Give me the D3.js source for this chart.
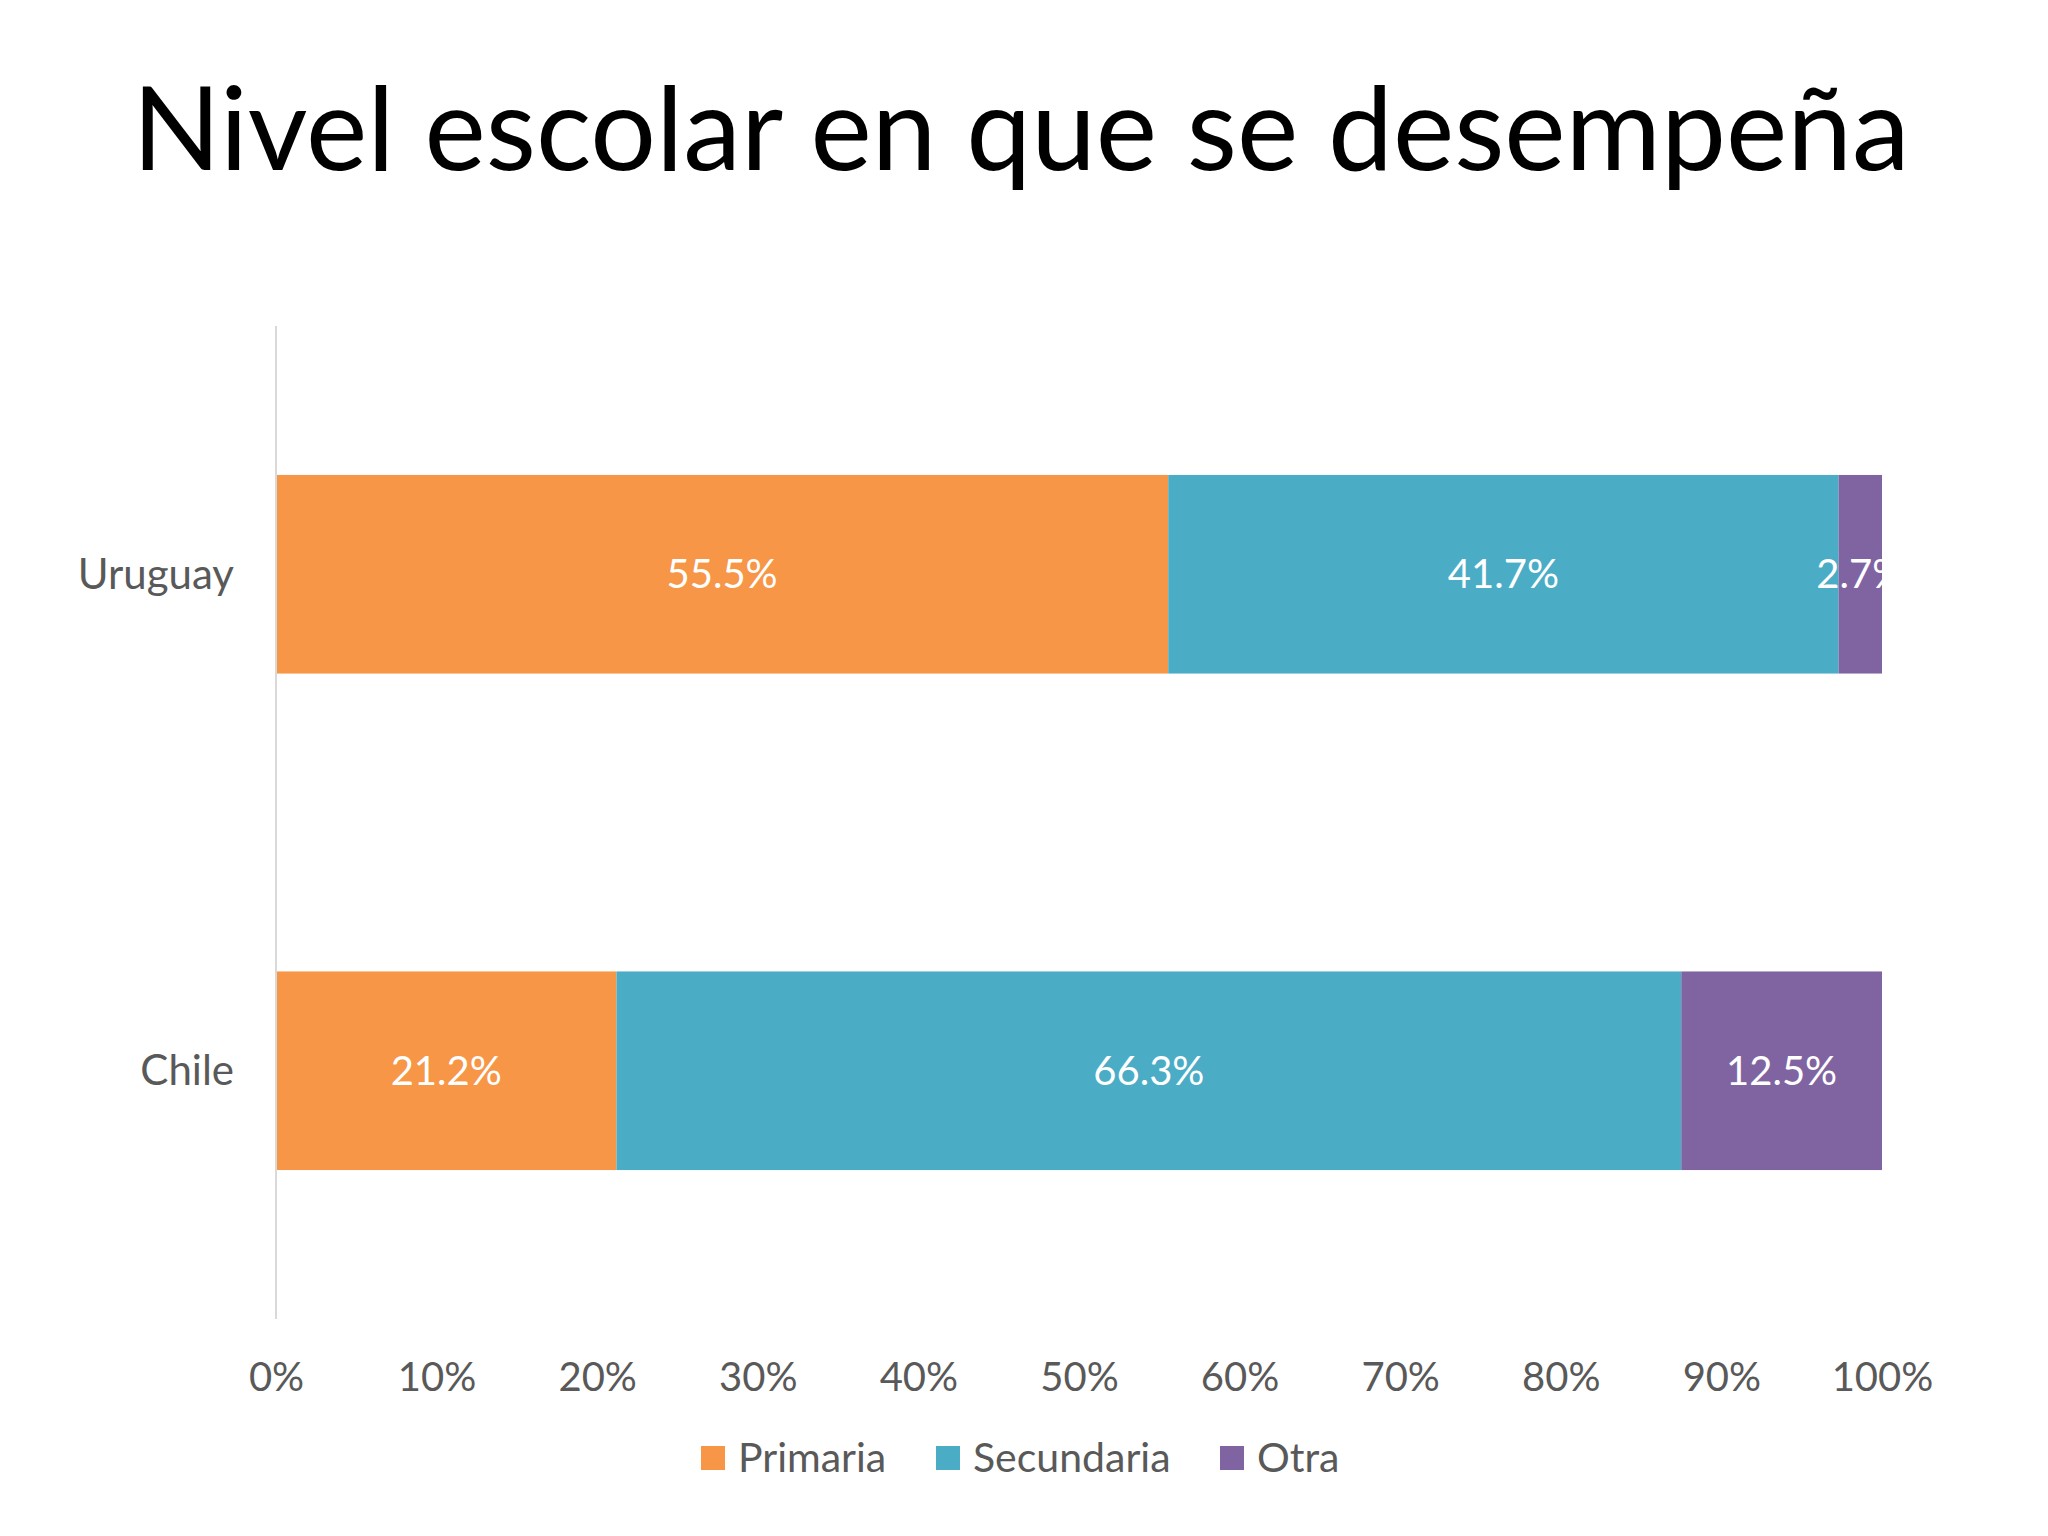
<!DOCTYPE html>
<html>
<head>
<meta charset="utf-8">
<script src="https://cdn.jsdelivr.net/npm/d3@7"></script>
<style>
  html, body { margin: 0; padding: 0; background: #ffffff; }
  svg text { font-family: Lato, "Open Sans", sans-serif; }
</style>
</head>
<body>
<div id="chart"></div>
<script>
// categories (top to bottom) and series shares in percent
var countries = ["Uruguay", "Chile"];
var seriesNames = ["Primaria", "Secundaria", "Otra"];
var primaria = [55.5, 21.2];
var secundaria = [41.7, 66.3];
var otra = [2.7, 12.5];
var tickValues = [0, 0.1, 0.2, 0.3, 0.4, 0.5, 0.6, 0.7, 0.8, 0.9, 1];
var colors = ["#F79646", "#4BACC6", "#8064A2"];

var width = 2048,
    height = 1536;

var svg = d3.select("#chart").append("svg")
    .attr("width", width)
    .attr("height", height);

// plot area
var plot = {left: 276, right: 1882, top: 326, bottom: 1319};

var x = d3.scaleLinear().domain([0, 1]).range([plot.left, plot.right]);
var y = d3.scaleBand().domain(countries)
    .range([plot.top, plot.bottom])
    .paddingInner(0.6).paddingOuter(0.3);
var color = d3.scaleOrdinal().domain(seriesNames).range(colors);

// rows normalised to 100% stacked
var rows = countries.map(function(c, i) {
    return {country: c, Primaria: primaria[i], Secundaria: secundaria[i], Otra: otra[i]};
});
var stacked = d3.stack().keys(seriesNames).offset(d3.stackOffsetExpand)(rows);

// title
svg.append("text")
    .attr("x", 1021)
    .attr("y", 170)
    .attr("text-anchor", "middle")
    .style("font-size", "116px")
    .style("fill", "#000000")
    .text("Nivel escolar en que se desempeña");

svg.append("clipPath").attr("id", "plotclip")
  .append("rect")
    .attr("x", plot.left).attr("y", plot.top)
    .attr("width", plot.right - plot.left)
    .attr("height", plot.bottom - plot.top);

// bars
var layers = svg.selectAll("g.layer")
    .data(stacked).enter().append("g")
    .attr("class", "layer")
    .style("fill", function(d) { return color(d.key); });

layers.selectAll("rect")
    .data(function(d) { return d; }).enter().append("rect")
    .attr("x", function(d) { return x(d[0]); })
    .attr("y", function(d) { return y(d.data.country); })
    .attr("width", function(d) { return x(d[1]) - x(d[0]); })
    .attr("height", y.bandwidth());

// value labels (clipped at the plot edge like the original)
var labels = svg.append("g").attr("clip-path", "url(#plotclip)");
stacked.forEach(function(layer) {
    labels.selectAll(null)
        .data(layer).enter().append("text")
        .attr("x", function(d) { return (x(d[0]) + x(d[1])) / 2; })
        .attr("y", function(d) { return y(d.data.country) + y.bandwidth() / 2; })
        .attr("dy", "0.35em")
        .attr("text-anchor", "middle")
        .style("font-size", "40px")
        .style("fill", "#ffffff")
        .text(function(d) { return d.data[layer.key].toFixed(1) + "%"; });
});

// vertical axis line
svg.append("line")
    .attr("x1", plot.left).attr("x2", plot.left)
    .attr("y1", plot.top).attr("y2", plot.bottom)
    .style("stroke", "#d9d9d9")
    .style("stroke-width", 2);

// category labels
svg.selectAll("text.cat")
    .data(countries).enter().append("text")
    .attr("class", "cat")
    .attr("x", 234)
    .attr("y", function(d) { return y(d) + y.bandwidth() / 2; })
    .attr("dy", "0.35em")
    .attr("text-anchor", "end")
    .style("font-size", "42px")
    .style("fill", "#595959")
    .text(function(d) { return d; });

// x axis tick labels
var xAxis = d3.axisBottom(x)
    .tickValues(tickValues)
    .tickFormat(d3.format(".0%"))
    .tickSize(0)
    .tickPadding(0);

var gx = svg.append("g")
    .attr("transform", "translate(0," + 1362 + ")")
    .call(xAxis);
gx.select(".domain").remove();
gx.selectAll("text")
    .attr("dy", "0.72em")
    .style("font-family", "Lato, 'Open Sans', sans-serif")
    .style("font-size", "40px")
    .style("fill", "#595959");

// legend
var legendX = [701, 936, 1220];
var legend = svg.selectAll("g.legend")
    .data(seriesNames).enter().append("g")
    .attr("class", "legend")
    .attr("transform", function(d, i) { return "translate(" + legendX[i] + "," + 1446 + ")"; });

legend.append("rect")
    .attr("width", 24).attr("height", 24)
    .style("fill", function(d) { return color(d); });

legend.append("text")
    .attr("x", 37)
    .attr("y", 12)
    .attr("dy", "0.35em")
    .style("font-size", "41px")
    .style("fill", "#595959")
    .text(function(d) { return d; });
</script>
</body>
</html>
